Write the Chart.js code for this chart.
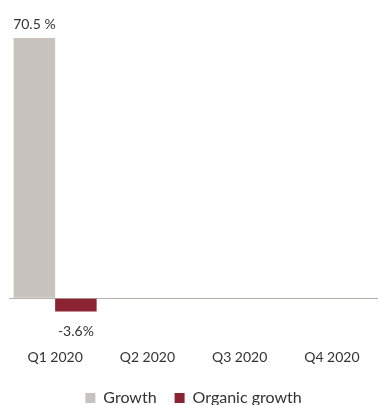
<!DOCTYPE html>
<html>
<head>
<meta charset="utf-8">
<script src="https://cdn.jsdelivr.net/npm/chart.js@4/dist/chart.umd.min.js"></script>
<style>
  html, body { margin: 0; padding: 0; background: #fff; }
  #wrap { width: 378px; height: 405px; }
</style>
</head>
<body>
<div id="wrap"><canvas id="growth-chart"></canvas></div>
<script>
const quarters = ['Q1 2020', 'Q2 2020', 'Q3 2020', 'Q4 2020'];
const growth = [70.5, null, null, null];
const organicGrowth = [-3.6, null, null, null];
const growthLabels = ['70.5 %', '', '', ''];
const organicLabels = ['-3.6%', '', '', ''];

const FONT = 'Lato, "Open Sans", sans-serif';
const TEXT = '#333333';

// writes the value text above positive bars and below negative ones
const valueLabels = {
  id: 'valueLabels',
  afterDatasetsDraw(chart) {
    const ctx = chart.ctx;
    ctx.save();
    ctx.font = '14px ' + FONT;
    ctx.fillStyle = TEXT;
    ctx.textAlign = 'center';
    chart.data.datasets.forEach((ds, i) => {
      const meta = chart.getDatasetMeta(i);
      meta.data.forEach((bar, j) => {
        const v = ds.data[j];
        const text = ds.valueText[j];
        if (v === null || !text) return;
        if (v >= 0) {
          ctx.textBaseline = 'bottom';
          ctx.fillText(text, bar.x, bar.y - 7);
        } else {
          ctx.textBaseline = 'top';
          ctx.fillText(text, bar.x, bar.y + 13);
        }
      });
    });
    ctx.restore();
  }
};

// keep the wide item spacing of the legend but trim its box height
const shortLegend = {
  id: 'shortLegend',
  beforeInit(chart) {
    const legend = chart.legend;
    const fit = legend.fit;
    legend.fit = function () {
      fit.call(this);
      this.height = 33;
    };
  }
};

new Chart(document.getElementById('growth-chart'), {
  type: 'bar',
  data: {
    labels: quarters,
    datasets: [
      {label: 'Growth', data: growth, valueText: growthLabels, backgroundColor: '#c8c3be'},
      {label: 'Organic growth', data: organicGrowth, valueText: organicLabels, backgroundColor: '#8b2333'}
    ]
  },
  options: {
    responsive: true,
    maintainAspectRatio: false,
    animation: false,
    datasets: {
      bar: {categoryPercentage: 0.9, barPercentage: 1.0}
    },
    layout: {
      padding: {top: 38, left: 9, right: 0, bottom: 0}
    },
    plugins: {
      tooltip: {enabled: false},
      legend: {
        position: 'bottom',
        labels: {
          boxWidth: 10,
          boxHeight: 10,
          padding: 18,
          color: TEXT,
          font: {family: FONT, size: 16}
        }
      }
    },
    scales: {
      x: {
        grid: {display: false, drawTicks: false},
        border: {display: false},
        ticks: {color: TEXT, padding: 14, font: {family: FONT, size: 14}},
        afterFit: axis => { axis.height -= 8; }
      },
      y: {
        display: true,
        min: -10,
        max: 70.5,
        grid: {
          drawTicks: false,
          color: ctx => ctx.tick && ctx.tick.value === 0 ? '#b5b0ab' : 'rgba(0,0,0,0)',
          lineWidth: 1
        },
        border: {display: false},
        afterBuildTicks: axis => { axis.ticks = [{value: 0}]; },
        ticks: {display: false}
      }
    }
  },
  plugins: [valueLabels, shortLegend]
});
</script>
</body>
</html>
